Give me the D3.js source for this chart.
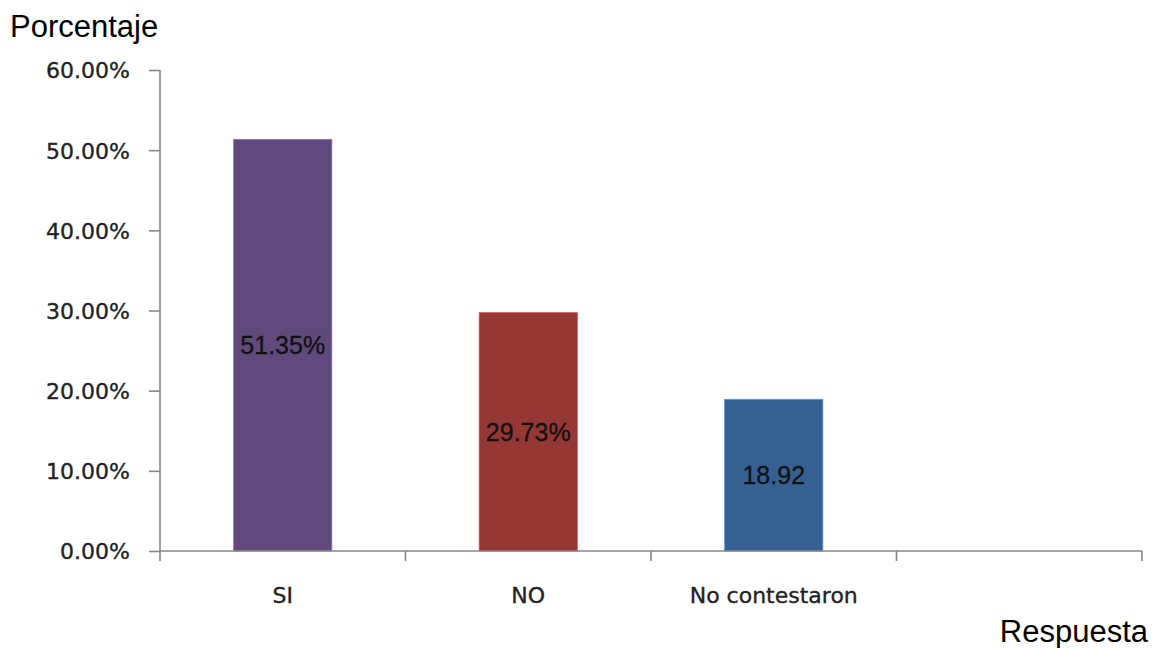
<!DOCTYPE html>
<html>
<head>
<meta charset="utf-8">
<script src="https://cdn.jsdelivr.net/npm/d3@7"></script>
<style>
  html, body { margin: 0; padding: 0; background: #fff; }
  svg { display: block; }
</style>
</head>
<body>
<svg id="chart" width="1161" height="648"></svg>
<script>
// Survey answers and their share of responses (percent)
const categories = ["SI", "NO", "No contestaron", ""];
const values = [51.35, 29.73, 18.92];
const valueLabels = ["51.35%", "29.73%", "18.92"];
const barColors = ["#604a7b", "#953735", "#376092"];
const yTicks = [0, 10, 20, 30, 40, 50, 60];

const svg = d3.select("#chart");
const plot = { left: 160, right: 1142, top: 70, bottom: 551 };
const axisColor = "#878787";
const tickFont = "DejaVu Sans, Verdana, sans-serif";

const x = d3.scaleBand()
  .domain(categories)
  .range([plot.left, plot.right])
  .paddingInner(0.6)
  .paddingOuter(0.3);

const y = d3.scaleLinear().domain([0, 60]).range([plot.bottom, plot.top]);

// Bars
svg.append("g").selectAll("rect")
  .data(values)
  .join("rect")
  .attr("x", (d, i) => x(categories[i]))
  .attr("y", d => y(d))
  .attr("width", x.bandwidth())
  .attr("height", d => y(0) - y(d))
  .attr("fill", (d, i) => barColors[i])
  .attr("stroke", (d, i) => d3.color(barColors[i]).brighter(1.2))
  .attr("stroke-width", 0.8);

// Y axis
const yAxis = d3.axisLeft(y)
  .tickValues(yTicks)
  .tickSize(11)
  .tickPadding(19)
  .tickFormat(d => d.toFixed(2) + "%");

const gy = svg.append("g")
  .attr("transform", `translate(${plot.left},0)`)
  .call(yAxis);
gy.select(".domain").attr("stroke", axisColor).attr("stroke-width", 1.6)
  .attr("d", `M0,${plot.top}V${plot.bottom}`);
gy.selectAll(".tick line").attr("stroke", axisColor).attr("stroke-width", 1.6);
gy.selectAll(".tick text")
  .attr("font-family", tickFont)
  .attr("font-size", 22)
  .attr("fill", "#222")
  .attr("stroke", "#222")
  .attr("stroke-width", 0.35)
  .attr("dy", "0.36em");

// X axis: ticks at band boundaries
const boundaries = categories.map(c => x(c) - x.step() * x.paddingOuter()).concat([plot.right]);
const gx = svg.append("g");
gx.append("line")
  .attr("x1", plot.left).attr("x2", plot.right)
  .attr("y1", plot.bottom).attr("y2", plot.bottom)
  .attr("stroke", axisColor).attr("stroke-width", 1.6);
gx.selectAll("line.tick")
  .data(boundaries)
  .join("line")
  .attr("class", "tick")
  .attr("x1", d => d).attr("x2", d => d)
  .attr("y1", plot.bottom).attr("y2", plot.bottom + 10)
  .attr("stroke", axisColor).attr("stroke-width", 1.6);
gx.selectAll("text")
  .data(categories.filter(c => c !== ""))
  .join("text")
  .attr("x", d => x(d) + x.bandwidth() / 2)
  .attr("y", 603)
  .attr("text-anchor", "middle")
  .attr("font-family", tickFont)
  .attr("font-size", 22)
  .attr("fill", "#222")
  .attr("stroke", "#222")
  .attr("stroke-width", 0.35)
  .text(d => d);

// Value labels centred inside each bar
svg.append("g").selectAll("text")
  .data(values)
  .join("text")
  .attr("x", (d, i) => x(categories[i]) + x.bandwidth() / 2)
  .attr("y", d => (y(d) + y(0)) / 2)
  .attr("dy", "0.36em")
  .attr("text-anchor", "middle")
  .attr("font-family", "Liberation Sans, Arial, sans-serif")
  .attr("font-size", 25)
  .attr("fill", "#111")
  .attr("stroke", "#111")
  .attr("stroke-width", 0.3)
  .text((d, i) => valueLabels[i]);

// Axis titles
svg.append("text")
  .attr("x", 10).attr("y", 37)
  .attr("font-family", "Liberation Sans, Arial, sans-serif")
  .attr("font-size", 31)
  .attr("fill", "#000")
  .text("Porcentaje");

svg.append("text")
  .attr("x", 1148).attr("y", 642)
  .attr("text-anchor", "end")
  .attr("font-family", "Liberation Sans, Arial, sans-serif")
  .attr("font-size", 31)
  .attr("fill", "#000")
  .text("Respuesta");
</script>
</body>
</html>
